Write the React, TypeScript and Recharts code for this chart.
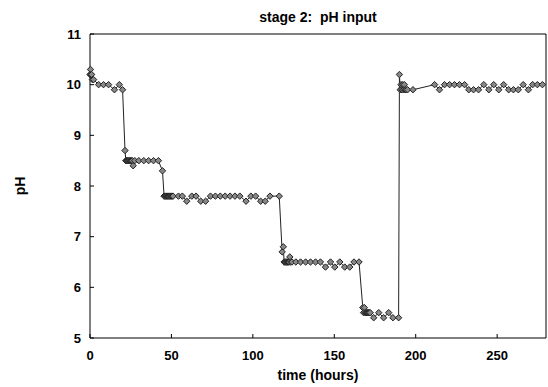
import { Label, Line, LineChart, XAxis, YAxis } from "recharts";

const HOURS = [
  0, 0.3, 0.6, 1, 1.5, 2.2, 5.3, 8.3, 11.4, 15, 18, 20,
  21.5, 22, 22.5, 23, 23.5, 24, 24.5, 25, 25.5, 26, 26.5, 27.5, 30, 33, 36, 39, 42, 44.5,
  45.5, 46, 46.5, 47, 47.5, 48, 48.5, 49, 49.5, 50, 50.5, 51,
  54.3, 56.7, 59.4, 62.5, 65.1, 68, 71, 74, 77, 80, 83, 86, 89, 92,
  95.8, 98.8, 101.7, 104.8, 107.6, 110.5, 116.2,
  118, 118.7, 119.2, 119.7, 120.2, 120.7, 121.2, 121.7, 122.2, 122.7, 123.3, 124,
  126.4, 129.3, 132.4, 135.4, 138.5, 141.5, 144.6, 147.7, 150.3, 153.4, 156.4, 159.5, 162.1, 165.2,
  167.5, 168, 168.5, 169, 169.5, 170, 170.5, 171, 171.5, 172,
  174.2, 177.3, 180.3, 183.4, 186, 189.5,
  190, 190.5, 191, 191.5, 192, 192.5, 193, 193.5, 194, 195, 198.3,
  211.6, 214.6, 217.7, 220.8, 223.8, 226.9, 230, 232.6, 235.5, 238.6, 241.8, 244.9,
  247.9, 251, 254, 257.1, 260, 263, 266, 269.2, 271.8, 274.7, 277.8,
];

const PH = [
  10.2, 10.3, 10.2, 10.2, 10.1, 10.1, 10.0, 10.0, 10.0, 9.9, 10.0, 9.9,
  8.7, 8.5, 8.5, 8.5, 8.5, 8.5, 8.5, 8.5, 8.5, 8.5, 8.4, 8.5, 8.5, 8.5, 8.5, 8.5, 8.5, 8.3,
  7.8, 7.8, 7.8, 7.8, 7.8, 7.8, 7.8, 7.8, 7.8, 7.8, 7.8, 7.8,
  7.8, 7.8, 7.7, 7.8, 7.8, 7.7, 7.7, 7.8, 7.8, 7.8, 7.8, 7.8, 7.8, 7.8,
  7.7, 7.8, 7.8, 7.7, 7.7, 7.8, 7.8,
  6.7, 6.8, 6.5, 6.5, 6.5, 6.5, 6.5, 6.5, 6.5, 6.6, 6.5, 6.5,
  6.5, 6.5, 6.5, 6.5, 6.5, 6.5, 6.4, 6.5, 6.4, 6.5, 6.4, 6.4, 6.5, 6.5,
  5.6, 5.5, 5.6, 5.5, 5.5, 5.5, 5.5, 5.5, 5.5, 5.5,
  5.4, 5.5, 5.4, 5.5, 5.4, 5.4,
  10.2, 9.9, 10.0, 9.9, 10.0, 9.9, 10.0, 9.9, 9.9, 9.9, 9.9,
  10.0, 9.9, 10.0, 10.0, 10.0, 10.0, 10.0, 9.9, 9.9, 9.9, 10.0, 9.9,
  10.0, 9.9, 10.0, 9.9, 9.9, 9.9, 10.0, 9.9, 10.0, 10.0, 10.0,
];

const X_TICKS = [0, 50, 100, 150, 200, 250];
const Y_TICKS = [5, 6, 7, 8, 9, 10, 11];

const data = HOURS.map((t, i) => ({ t, ph: PH[i] }));

const FONT = "'Liberation Sans', Arial, Helvetica, sans-serif";
const INK = "#000";
const tickStyle = { fontSize: 13, fontWeight: 700, fill: INK, fontFamily: FONT };

function Diamond({ cx, cy, index }: { cx?: number; cy?: number; index?: number }) {
  if (cx == null || cy == null) return null;
  const r = 3.2;
  return (
    <path
      key={`d-${index}`}
      d={`M${cx},${cy - r}L${cx + r},${cy}L${cx},${cy + r}L${cx - r},${cy}Z`}
      fill="#888"
      stroke="#222"
      strokeWidth={1}
    />
  );
}

export default function App() {
  return (
    <div style={{ position: "absolute", left: 0, top: 0, width: 548, height: 387, background: "#fff" }}>
      <div
        style={{
          position: "absolute",
          left: 90,
          width: 456,
          top: 9,
          textAlign: "center",
          fontFamily: FONT,
          fontWeight: 700,
          fontSize: 14,
          lineHeight: "16px",
          whiteSpace: "pre",
        }}
      >
        stage 2:  pH input
      </div>
      <LineChart width={548} height={387} data={data} margin={{ top: 33, right: 1, bottom: 0, left: 0 }}>
        <XAxis
          dataKey="t"
          type="number"
          domain={[0, 280]}
          ticks={X_TICKS}
          height={49}
          stroke={INK}
          tickSize={-4}
          tickMargin={17}
          tick={tickStyle}
        >
          <Label
            value="time (hours)"
            position="insideBottom"
            offset={7}
            style={{ fontSize: 14, fontWeight: 700, fill: INK, fontFamily: FONT }}
          />
        </XAxis>
        {/* frame: top axis with inward ticks, no labels */}
        <XAxis
          xAxisId="top"
          orientation="top"
          dataKey="t"
          type="number"
          domain={[0, 280]}
          ticks={X_TICKS}
          height={1}
          stroke={INK}
          tickSize={-4}
          tick={false}
        />
        <YAxis
          type="number"
          domain={[5, 11]}
          ticks={Y_TICKS}
          width={90}
          stroke={INK}
          tickSize={-4}
          tickMargin={13}
          tick={tickStyle}
        >
          <Label
            value="pH"
            angle={-90}
            position="insideLeft"
            offset={20}
            style={{ fontSize: 14, fontWeight: 700, fill: INK, fontFamily: FONT, textAnchor: "middle" }}
          />
        </YAxis>
        <YAxis
          yAxisId="right"
          orientation="right"
          type="number"
          domain={[5, 11]}
          ticks={Y_TICKS}
          width={1}
          stroke={INK}
          tickSize={-4}
          tick={false}
        />
        <Line
          xAxisId="top"
          yAxisId="right"
          dataKey="ph"
          stroke="none"
          dot={false}
          activeDot={false}
          legendType="none"
          isAnimationActive={false}
        />
        <Line
          dataKey="ph"
          type="linear"
          stroke="#222"
          strokeWidth={1}
          dot={Diamond}
          activeDot={false}
          isAnimationActive={false}
        />
      </LineChart>
    </div>
  );
}
